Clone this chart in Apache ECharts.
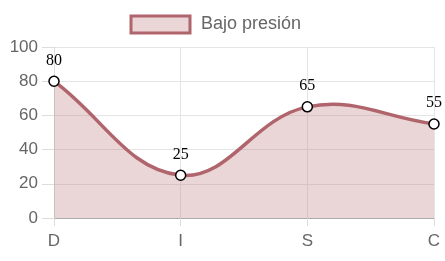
<!DOCTYPE html>
<html>
<head>
<meta charset="UTF-8">
<script src="https://cdn.jsdelivr.net/npm/echarts@6/dist/echarts.min.js"></script>
<style>html,body{margin:0;padding:0;background:#fff}</style>
</head>
<body>
<div id="main" style="width:445px;height:261px;"></div>
<script>
var categories = ['D', 'I', 'S', 'C'];
var values = [80, 25, 65, 55];
var seriesName = 'Bajo presión';

var lineColor = '#b0646c';
var fillColor = 'rgba(176,100,108,0.27)';
var tension = 0.4;

// spline like the original (control points from neighbours, in pixels)
function buildPath(pts, baseY) {
  var cps = pts.map(function (p, i) {
    var prev = pts[i - 1] || p, next = pts[i + 1] || p;
    var d01 = Math.hypot(p[0] - prev[0], p[1] - prev[1]);
    var d12 = Math.hypot(next[0] - p[0], next[1] - p[1]);
    var s01 = d01 / (d01 + d12) || 0, s12 = d12 / (d01 + d12) || 0;
    var fa = tension * s01, fb = tension * s12;
    return {
      prev: [p[0] - fa * (next[0] - prev[0]), p[1] - fa * (next[1] - prev[1])],
      next: [p[0] + fb * (next[0] - prev[0]), p[1] + fb * (next[1] - prev[1])]
    };
  });
  var d = 'M' + pts[0][0] + ' ' + pts[0][1];
  for (var i = 1; i < pts.length; i++) {
    d += ' C' + cps[i - 1].next[0] + ' ' + cps[i - 1].next[1] + ' ' +
      cps[i].prev[0] + ' ' + cps[i].prev[1] + ' ' + pts[i][0] + ' ' + pts[i][1];
  }
  var area = d + ' L' + pts[pts.length - 1][0] + ' ' + baseY + ' L' + pts[0][0] + ' ' + baseY + ' Z';
  return { line: d, area: area };
}

var chart = echarts.init(document.getElementById('main'));
chart.setOption({
  animation: false,
  legend: {
    data: [seriesName],
    top: 14.5,
    left: 129.5,
    padding: 0,
    itemWidth: 59,
    itemHeight: 17,
    icon: 'rect',
    itemStyle: { color: fillColor, borderColor: lineColor, borderWidth: 3 },
    textStyle: { color: '#666', fontSize: 18, fontFamily: 'Arial', padding: [0, 0, 0, 6] }
  },
  grid: { left: 54, right: 11, top: 47, bottom: 43 },
  xAxis: {
    type: 'category',
    data: categories,
    boundaryGap: false,
    axisLine: { lineStyle: { color: '#aaa' } },
    axisTick: { length: 8, lineStyle: { color: '#ddd' } },
    axisLabel: { color: '#666', fontSize: 17, fontFamily: 'Arial', margin: 15 },
    splitLine: { show: true, lineStyle: { color: '#e5e5e5' } }
  },
  yAxis: {
    type: 'value',
    min: 0, max: 100, interval: 20,
    axisLine: { show: true, lineStyle: { color: '#ddd' } },
    axisTick: { show: true, length: 12, lineStyle: { color: '#ddd' } },
    axisLabel: { color: '#666', fontSize: 17, fontFamily: 'Arial', margin: 16 },
    splitLine: { lineStyle: { color: '#e5e5e5' } }
  },
  series: [{
    type: 'custom',
    name: 'curve',
    data: values.map(function (v, i) { return [i, v]; }),
    z: 2,
    silent: true,
    renderItem: function (params, api) {
      if (params.dataIndex !== 0) return;
      var pts = values.map(function (v, i) { return api.coord([i, v]); });
      var baseY = api.coord([0, 0])[1];
      var p = buildPath(pts, baseY);
      return {
        type: 'group',
        children: [
          { type: 'path', shape: { pathData: p.area }, style: { fill: fillColor, stroke: null } },
          { type: 'path', shape: { pathData: p.line }, style: { fill: null, stroke: lineColor, lineWidth: 3.5 } }
        ]
      };
    }
  }, {
    name: seriesName,
    type: 'line',
    data: values,
    z: 3,
    symbol: 'circle',
    symbolSize: 10,
    itemStyle: { color: '#fff', borderColor: '#000', borderWidth: 1.5 },
    lineStyle: { color: lineColor, width: 3.5, opacity: 0 },
    label: { show: true, position: 'top', distance: 7, color: '#000', fontSize: 16, fontFamily: 'Liberation Serif' }
  }]
});
</script>
</body>
</html>
